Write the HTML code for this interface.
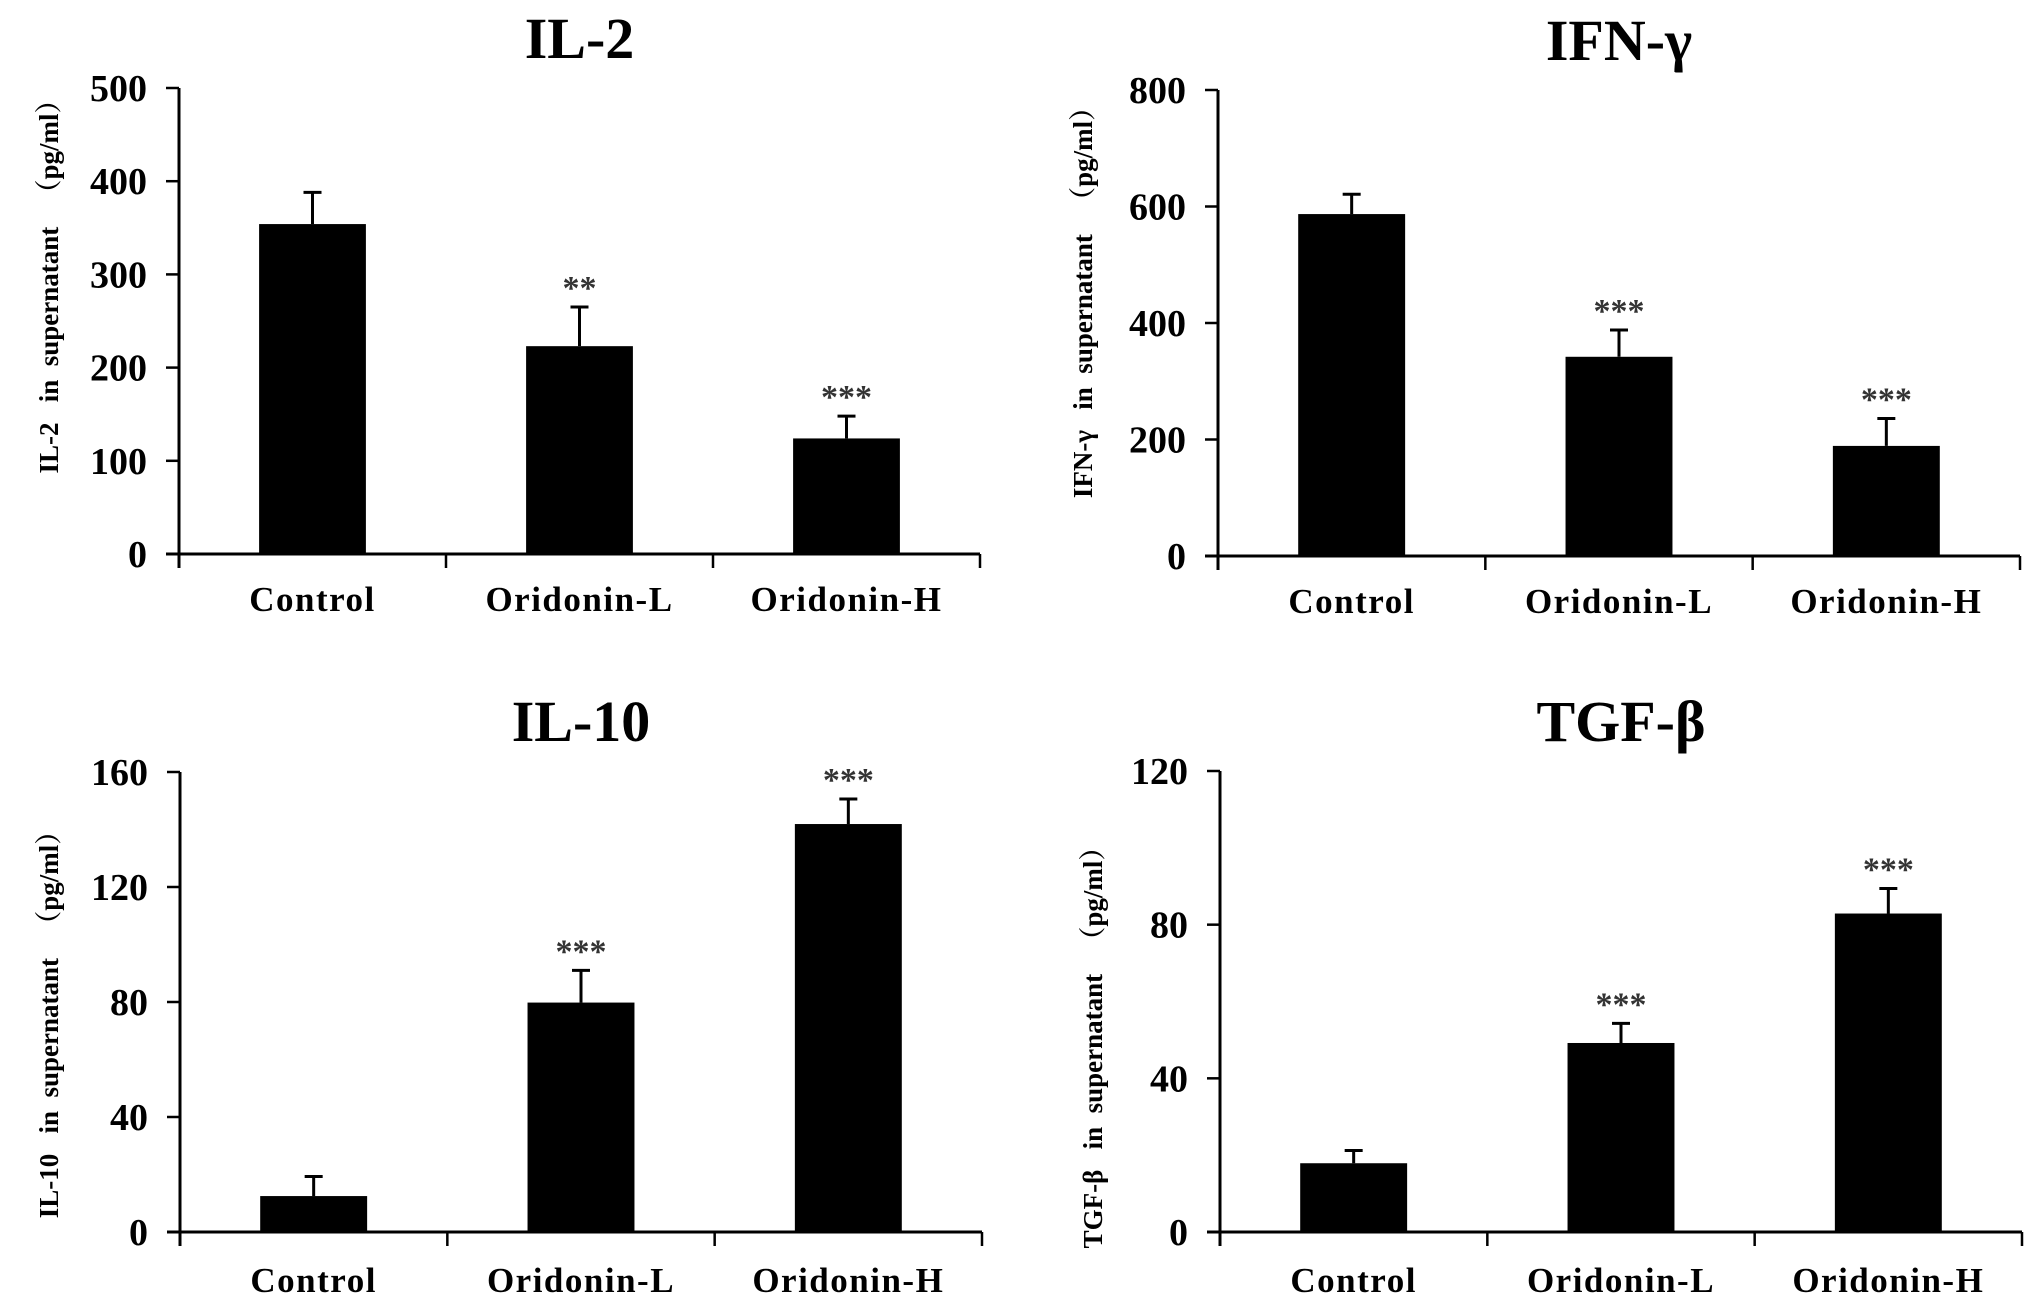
<!DOCTYPE html>
<html><head><meta charset="utf-8">
<style>
html,body{margin:0;padding:0;background:#fff;}
svg{display:block;font-family:"Liberation Serif","Noto Serif CJK SC",serif;font-weight:bold;}
</style></head>
<body>
<svg id="fig" width="2031" height="1302" viewBox="0 0 2031 1302" xmlns="http://www.w3.org/2000/svg"></svg>
<script>
const categories = ["Control", "Oridonin-L", "Oridonin-H"];
const il2Values = [354, 223, 124];
const il2Errors = [388, 265, 148];
const il2Stars = ["", "**", "***"];
const il2Ticks = [0, 100, 200, 300, 400, 500];
const ifnValues = [587, 342, 189];
const ifnErrors = [621, 388, 236];
const ifnStars = ["", "***", "***"];
const ifnTicks = [0, 200, 400, 600, 800];
const il10Values = [12.5, 79.8, 141.9];
const il10Errors = [19.3, 91, 150.6];
const il10Stars = ["", "***", "***"];
const il10Ticks = [0, 40, 80, 120, 160];
const tgfValues = [17.9, 49.2, 82.9];
const tgfErrors = [21.2, 54.3, 89.4];
const tgfStars = ["", "***", "***"];
const tgfTicks = [0, 40, 80, 120];

const NS = "http://www.w3.org/2000/svg";
const svg = document.getElementById("fig");
function mk(tag, attrs, parent) {
  const e = document.createElementNS(NS, tag);
  for (const k in attrs) e.setAttribute(k, attrs[k]);
  parent.appendChild(e);
  return e;
}

const panels = [
  {key:"il2", title:"IL-2", ylab:"IL-2   in  supernatant   （pg/ml）", vals:il2Values, errs:il2Errors, stars:il2Stars, ticks:il2Ticks,
   x0:179, x1:980, yTop:88, yBot:554, titleY:58, catY:611, labX:49, labY:280},
  {key:"ifn", title:"IFN-γ", ylab:"IFN-γ   in  supernatant   （pg/ml）", vals:ifnValues, errs:ifnErrors, stars:ifnStars, ticks:ifnTicks,
   x0:1218, x1:2020, yTop:90, yBot:556, titleY:60, catY:613, labX:1083, labY:296},
  {key:"il10", title:"IL-10", ylab:"IL-10   in  supernatant   （pg/ml）", vals:il10Values, errs:il10Errors, stars:il10Stars, ticks:il10Ticks,
   x0:180, x1:982, yTop:772, yBot:1232, titleY:741, catY:1292, labX:49, labY:1018},
  {key:"tgf", title:"TGF-β", ylab:"TGF-β   in  supernatant   （pg/ml）", vals:tgfValues, errs:tgfErrors, stars:tgfStars, ticks:tgfTicks,
   x0:1220, x1:2022, yTop:771, yBot:1232, titleY:741, catY:1292, labX:1093, labY:1041}
];

panels.forEach(p => {
  const g = mk("g", {}, svg);
  
  
  const maxT = p.ticks[p.ticks.length - 1];
  const yS = v => p.yBot - (v / maxT) * (p.yBot - p.yTop);
  const gw = (p.x1 - p.x0) / categories.length;
  const xC = i => p.x0 + gw * (i + 0.5);
  const bw = gw * 0.4;

  const t = mk("text", {x:(p.x0 + p.x1) / 2, y:p.titleY, "text-anchor":"middle", "font-size":"58"}, g);
  t.textContent = p.title;
  
  

  const yl = mk("text", {x:0, y:0, "text-anchor":"middle", "font-size":"27", "xml:space":"preserve", style:"white-space:pre",
    transform:"translate(" + (p.labX + 9) + "," + p.labY + ") rotate(-90)"}, g);
  yl.textContent = p.ylab;
  
  

  p.vals.forEach((v, i) => {
    const bar = mk("rect", {x:xC(i) - bw / 2, y:yS(v), width:bw, height:p.yBot - yS(v), fill:"#000"}, g);
    
    
    const eb = mk("path", {d:"M" + xC(i) + "," + yS(v) + "V" + yS(p.errs[i]) + "M" + (xC(i) - 9) + "," + yS(p.errs[i]) + "H" + (xC(i) + 9),
      stroke:"#000", "stroke-width":"3", fill:"none"}, g);
    
    
    if (p.stars[i]) {
      const s = mk("text", {x:xC(i), y:yS(p.errs[i]) - 8, "text-anchor":"middle", "font-size":"34", fill:"#333"}, g);
      s.textContent = p.stars[i];
      
      
    }
    const cl = mk("text", {x:xC(i), y:p.catY, "text-anchor":"middle", "font-size":"35", "letter-spacing":"1.5"}, g);
    cl.textContent = categories[i];
    
    
  });

  const ya = mk("line", {x1:p.x0, y1:p.yTop, x2:p.x0, y2:p.yBot + 14, stroke:"#000", "stroke-width":"3"}, g);
  
  
  const xa = mk("line", {x1:p.x0 - 13, y1:p.yBot, x2:p.x1, y2:p.yBot, stroke:"#000", "stroke-width":"3"}, g);
  
  
  for (let i = 1; i <= categories.length; i++) {
    mk("line", {x1:p.x0 + gw * i, y1:p.yBot, x2:p.x0 + gw * i, y2:p.yBot + 14, stroke:"#000", "stroke-width":"2.5"}, g);
  }
  p.ticks.forEach(tv => {
    mk("line", {x1:p.x0 - 13, y1:yS(tv), x2:p.x0, y2:yS(tv), stroke:"#000", "stroke-width":"2.5"}, g);
    const tl = mk("text", {x:p.x0 - 32, y:yS(tv) + 13, "text-anchor":"end", "font-size":"38"}, g);
    tl.textContent = tv;
    
    
  });
});
</script>
</body></html>
